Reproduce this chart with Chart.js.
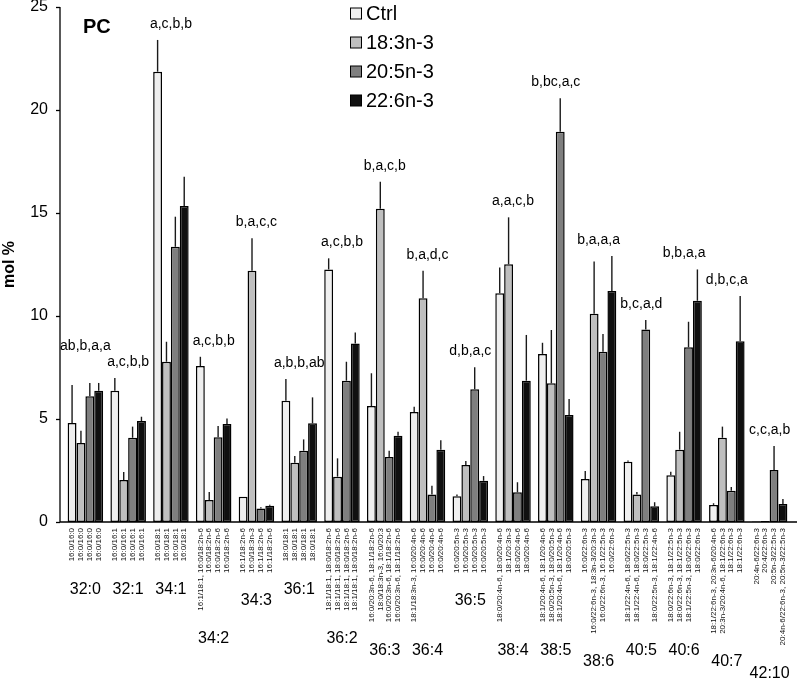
<!DOCTYPE html>
<html>
<head>
<meta charset="utf-8">
<script src="https://cdn.jsdelivr.net/npm/chart.js@4.4.1/dist/chart.umd.min.js"></script>
<style>
  html, body { margin: 0; padding: 0; background: #fff; }
  #wrap { width: 797px; height: 683px; }
</style>
</head>
<body>
<div id="wrap"><canvas id="chart" width="797" height="683"></canvas></div>
<script>
// species groups (x categories)
const groups = ['32:0', '32:1', '34:1', '34:2', '34:3', '36:1', '36:2', '36:3', '36:4',
  '36:5', '38:4', '38:5', '38:6', '40:5', '40:6', '40:7', '42:10'];

const seriesNames = ['Ctrl', '18:3n-3', '20:5n-3', '22:6n-3'];

// mol % values
const ctrl = [4.8, 6.37, 21.86, 7.57, 1.23, 5.89, 12.26, 5.63, 5.34, 1.25, 11.1, 8.16, 2.09, 2.93, 2.27, 0.83, 0.03];
const ala  = [3.83, 2.04, 7.78, 1.07, 12.2, 2.88, 2.2, 15.21, 10.86, 2.77, 12.51, 6.73, 10.11, 1.33, 3.51, 4.09, 0.05];
const epa  = [6.1, 4.09, 13.36, 4.11, 0.66, 3.46, 6.86, 3.16, 1.34, 6.44, 1.44, 18.95, 8.27, 9.35, 8.48, 1.52, 2.52];
const dha  = [6.37, 4.9, 15.34, 4.76, 0.79, 4.79, 8.67, 4.19, 3.51, 2.0, 6.86, 5.19, 11.21, 0.76, 10.74, 8.77, 0.87];

// upper error (SD)
const ctrlErr = [1.85, 0.62, 1.54, 0.45, 0, 1.05, 0.54, 1.59, 0.26, 0.09, 1.26, 0.54, 0.39, 0.06, 0.17, 0.08, 0];
const alaErr  = [0.6, 0.39, 0.97, 0.39, 1.57, 0.32, 0.89, 1.31, 1.34, 0.19, 2.28, 2.59, 2.53, 0.13, 0.87, 0.54, 0];
const epaErr  = [0.65, 0.54, 1.46, 0.55, 0.05, 0.55, 0.92, 0.3, 0.42, 1.07, 0.49, 1.62, 0.86, 0.45, 1.24, 0.18, 1.17];
const dhaErr  = [0.38, 0.21, 1.42, 0.27, 0.05, 1.26, 0.53, 0.19, 0.46, 0.23, 2.22, 0.78, 1.7, 0.2, 1.52, 2.2, 0.25];

// significance letters
const letters = ['ab,b,a,a', 'a,c,b,b', 'a,c,b,b', 'a,c,b,b', 'b,a,c,c', 'a,b,b,ab', 'a,c,b,b', 'b,a,c,b',
  'b,a,d,c', 'd,b,a,c', 'a,a,c,b', 'b,bc,a,c', 'b,a,a,a', 'b,c,a,d', 'b,b,a,a', 'd,b,c,a', 'c,c,a,b'];

// molecular species under each bar (Ctrl, 18:3, 20:5, 22:6)
const species = [
  ['16:0/16:0', '16:0/16:0', '16:0/16:0', '16:0/16:0'],
  ['16:0/16:1', '16:0/16:1', '16:0/16:1', '16:0/16:1'],
  ['16:0/18:1', '16:0/18:1', '16:0/18:1', '16:0/18:1'],
  ['16:1/18:1, 16:0/18:2n-6', '16:0/18:2n-6', '16:0/18:2n-6', '16:0/18:2n-6'],
  ['16:1/18:2n-6', '16:0/18:3n-3', '16:1/18:2n-6', '16:1/18:2n-6'],
  ['18:0/18:1', '18:0/18:1', '18:0/18:1', '18:0/18:1'],
  ['18:1/18:1, 18:0/18:2n-6', '18:1/18:1, 18:0/18:2n-6', '18:1/18:1, 18:0/18:2n-6', '18:1/18:1, 18:0/18:2n-6'],
  ['16:0/20:3n-6, 18:1/18:2n-6', '18:0/18:3n-3, 16:0/20:3', '16:0/20:3n-6, 18:1/18:2n-6', '16:0/20:3n-6, 18:1/18:2n-6'],
  ['18:1/18:3n-3, 16:0/20:4n-6', '16:0/20:4n-6', '16:0/20:4n-6', '16:0/20:4n-6'],
  ['16:0/20:5n-3', '16:0/20:5n-3', '16:0/20:5n-3', '16:0/20:5n-3'],
  ['18:0/20:4n-6, 18:0/20:4n-6', '18:1/20:3n-3', '18:0/20:4n-6', '18:0/20:4n-6'],
  ['18:1/20:4n-6, 18:1/20:4n-6', '18:0/20:5n-3, 18:0/20:5n-3', '18:1/20:4n-6, 18:1/20:4n-6', '18:0/20:5n-3'],
  ['16:0/22:6n-3', '16:0/22:6n-3, 18:3n-3/20:3n-3', '16:0/22:6n-3, 16:1/22:5n-3', '16:0/22:6n-3'],
  ['18:1/22:4n-6, 18:0/22:5n-3', '18:1/22:4n-6, 18:0/22:5n-3', '18:0/22:5n-3', '18:0/22:5n-3, 18:1/22:4n-6'],
  ['18:0/22:6n-3, 18:1/22:5n-3', '18:0/22:6n-3, 18:1/22:5n-3', '18:1/22:5n-3, 18:0/22:6n-3', '18:0/22:6n-3'],
  ['18:1/22:6n-3, 20:3n-6/20:4n-6', '20:3n-3/20:4n-6, 18:1/22:6n-3', '18:1/22:6n-3', '18:1/22:6n-3'],
  ['20:4n-6/22:6n-3', '20:4/22:6n-3', '20:5n-3/22:5n-3', '20:4n-6/22:6n-3, 20:5n-3/22:5n-3']
];

const yTicks = [0, 5, 10, 15, 20, 25];

const values = [ctrl, ala, epa, dha];
const errors = [ctrlErr, alaErr, epaErr, dhaErr];
const colors = ['#efefef', '#bfbfbf', '#7f7f7f', '#101010'];
const FONT = '"Liberation Sans", Arial, sans-serif';

Chart.defaults.font.family = FONT;
Chart.defaults.color = '#000';

// error bars, letters, rotated species names, axes, legend
const extras = {
  id: 'extras',
  afterDatasetsDraw(chart) {
    const ctx = chart.ctx;
    const y = chart.scales.y;
    const x = chart.scales.x;
    const area = chart.chartArea;
    const axisX = area.left - 4;
    ctx.save();

    // axes
    ctx.strokeStyle = '#000';
    ctx.lineWidth = 1.3;
    ctx.beginPath();
    ctx.moveTo(axisX, area.top);
    ctx.lineTo(axisX, area.bottom);
    ctx.lineTo(chart.width, area.bottom);
    ctx.stroke();
    yTicks.forEach(t => {
      const py = Math.round(y.getPixelForValue(t)) + 0.5;
      ctx.beginPath();
      ctx.moveTo(axisX - 4, py);
      ctx.lineTo(axisX, py);
      ctx.stroke();
    });

    // error bars
    ctx.strokeStyle = '#1a1a1a';
    ctx.lineWidth = 1.4;
    errors.forEach((errs, d) => {
      chart.getDatasetMeta(d).data.forEach((bar, i) => {
        if (!errs[i]) return;
        const top = y.getPixelForValue(values[d][i] + errs[i]);
        ctx.beginPath();
        ctx.moveTo(bar.x, bar.y);
        ctx.lineTo(bar.x, top);
        ctx.stroke();
      });
    });

    // letters above each group, nudged up when they would touch the next one
    ctx.fillStyle = '#000';
    ctx.font = '14px ' + FONT;
    ctx.textAlign = 'center';
    ctx.textBaseline = 'middle';
    const pos = letters.map((txt, i) => {
      const hi = Math.max(...values.map((v, d) => v[i] + errors[d][i]));
      return { x: x.getPixelForValue(i), y: y.getPixelForValue(hi) - 16, w: ctx.measureText(txt).width };
    });
    for (let i = pos.length - 2; i >= 0; i--) {
      const a = pos[i], b = pos[i + 1];
      if (a.x + a.w / 2 + 2 > b.x - b.w / 2 && Math.abs(a.y - b.y) < 16) a.y = b.y - 16;
    }
    letters.forEach((txt, i) => ctx.fillText(txt, pos[i].x, pos[i].y));

    // rotated species names
    ctx.fillStyle = '#111';
    ctx.font = '8px ' + FONT;
    ctx.textAlign = 'right';
    const longest = groups.map(() => 0);
    values.forEach((v, d) => {
      chart.getDatasetMeta(d).data.forEach((bar, i) => {
        const txt = species[i][d];
        longest[i] = Math.max(longest[i], ctx.measureText(txt).width);
        ctx.save();
        ctx.translate(bar.x, area.bottom + 6);
        ctx.rotate(-Math.PI / 2);
        ctx.fillText(txt, 0, 0);
        ctx.restore();
      });
    });

    // group names under species
    ctx.fillStyle = '#000';
    ctx.font = '16px ' + FONT;
    ctx.textAlign = 'center';
    groups.forEach((g, i) => {
      ctx.fillText(g, x.getPixelForValue(i), area.bottom + 6 + Math.max(60, longest[i] + 28));
    });

    // legend
    ctx.font = '20px ' + FONT;
    ctx.textAlign = 'left';
    seriesNames.forEach((name, s) => {
      const cy = 13.5 + s * 29;
      ctx.fillStyle = colors[s];
      ctx.fillRect(350.5, cy - 5.5, 11, 11);
      ctx.strokeStyle = '#000';
      ctx.lineWidth = 1;
      ctx.strokeRect(350.5, cy - 5.5, 11, 11);
      ctx.fillStyle = '#000';
      ctx.fillText(name, 366, cy + 1);
    });

    // panel label
    ctx.font = 'bold 20px ' + FONT;
    ctx.fillText('PC', 83, 27);
    ctx.restore();
  }
};

new Chart(document.getElementById('chart'), {
  type: 'bar',
  data: {
    labels: groups,
    datasets: seriesNames.map((name, s) => ({
      label: name,
      data: values[s],
      backgroundColor: colors[s],
      borderColor: '#000',
      borderWidth: 1.5,
      borderSkipped: false,
      categoryPercentage: 0.83,
      barPercentage: 1.0
    }))
  },
  options: {
    responsive: false,
    animation: false,
    layout: { padding: { top: 7, right: 6, bottom: 161, left: 0 } },
    plugins: { legend: { display: false }, tooltip: { enabled: false } },
    scales: {
      x: {
        grid: { display: false, drawTicks: false },
        border: { display: false },
        ticks: { display: false },
        afterFit: s => { s.height = 0; s.paddingLeft = 0; s.paddingRight = 0; }
      },
      y: {
        min: 0,
        max: 25,
        afterBuildTicks: s => { s.ticks = yTicks.map(v => ({ value: v })); },
        grid: { display: false, drawTicks: false },
        border: { display: false },
        ticks: { padding: 16, font: { size: 16 }, color: '#000' },
        title: { display: true, text: 'mol %', font: { size: 16, weight: 'bold' }, padding: { top: 0, bottom: 0 } },
        afterFit: s => { s.width = 64; s.paddingTop = 0; s.paddingBottom = 0; }
      }
    }
  },
  plugins: [extras]
});
</script>
</body>
</html>
